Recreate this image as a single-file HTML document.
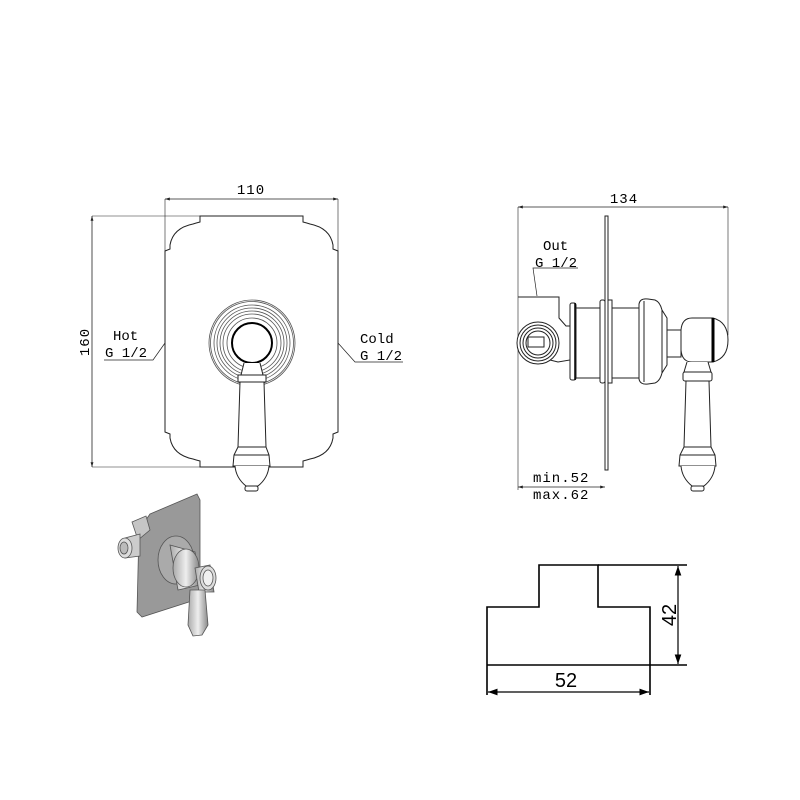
<!DOCTYPE html>
<html><head><meta charset="utf-8"><style>
html,body{margin:0;padding:0;background:#fff;width:800px;height:800px;overflow:hidden}
svg{display:block}
text{font-family:"Liberation Mono",monospace;fill:#000}
</style></head><body>
<svg width="800" height="800" viewBox="0 0 800 800" xmlns="http://www.w3.org/2000/svg">
<defs>
<marker id="a" viewBox="0 0 10 10" refX="10" refY="5" markerWidth="6" markerHeight="6" orient="auto-start-reverse"><path d="M0,2 L10,5 L0,8 z" fill="#222"/></marker>
<marker id="b" viewBox="0 0 10 10" refX="10" refY="5" markerWidth="8" markerHeight="8" orient="auto-start-reverse"><path d="M0,1.5 L10,5 L0,8.5 z" fill="#000"/></marker>
<linearGradient id="g1" x1="0" x2="1"><stop offset="0" stop-color="#aaa"/><stop offset=".5" stop-color="#eee"/><stop offset="1" stop-color="#888"/></linearGradient>
</defs>
<g fill="none" stroke="#222" stroke-width="1">
<path d="M200,216 L303,216 L303,222 Q307,223 310,224 Q330,228 333,245 L333,249 L338,251 L338,432 L333,434 L333,438 Q330,455 310,459 Q307,460 303,461 L303,467 L200,467 L200,461 Q196,460 193,459 Q173,455 170,438 L170,434 L165,432 L165,251 L170,249 L170,245 Q173,228 193,224 Q196,223 200,222 Z"/>
<line x1="165" y1="199" x2="338" y2="199" marker-start="url(#a)" marker-end="url(#a)" stroke-width=".8"/>
<line x1="165" y1="199" x2="165" y2="251" stroke-width=".6"/>
<line x1="338" y1="199" x2="338" y2="251" stroke-width=".6"/>
<line x1="92" y1="216" x2="92" y2="467" marker-start="url(#a)" marker-end="url(#a)" stroke-width=".8"/>
<line x1="92" y1="216" x2="200" y2="216" stroke-width=".6"/>
<line x1="92" y1="467" x2="200" y2="467" stroke-width=".6"/>
<polyline points="104,360 153,360 165,343" stroke-width=".7"/>
<polyline points="338,343 355,362 403,362" stroke-width=".7"/>
<g stroke="#555" stroke-width=".8">
<circle cx="252" cy="343" r="43"/><circle cx="252" cy="343" r="41.5"/><circle cx="252" cy="343" r="38"/><circle cx="252" cy="343" r="35"/><circle cx="252" cy="343" r="32"/><circle cx="252" cy="343" r="29"/><circle cx="252" cy="343" r="25"/>
</g>
<circle cx="252" cy="343" r="20" stroke="#000" stroke-width="2"/>
<path d="M244,363 L241,375 L263,375 L260,363" fill="#fff"/>
<rect x="238" y="375" width="28" height="7" fill="#fff"/>
<path d="M240,382 L238,447 L234,455 L233,466 L270,466 L269,455 L266,447 L264,382 Z" fill="#fff"/>
<line x1="238" y1="447" x2="266" y2="447"/><line x1="234" y1="455" x2="269" y2="455"/>
<path d="M235,466 Q236,478 246,486 L258,486 Q268,478 269,466" fill="#fff"/>
<rect x="245" y="486" width="13" height="5" rx="2" fill="#fff"/>
<line x1="518" y1="207" x2="728" y2="207" marker-start="url(#a)" marker-end="url(#a)" stroke-width=".8"/>
<line x1="518" y1="207" x2="518" y2="490" stroke-width=".6"/>
<line x1="728" y1="207" x2="728" y2="335" stroke-width=".6"/>
<line x1="518" y1="487" x2="605" y2="487" marker-start="url(#a)" marker-end="url(#a)" stroke-width=".8"/>
<polyline points="578,268 533,268 537,296" stroke-width=".7"/>
<rect x="605" y="216" width="3" height="254" fill="#fff"/>
<path d="M518,297 L559,297 L559,318 L566,326 L570,326 L570,360 L558,362 L550,360" fill="#fff"/>
<circle cx="538" cy="343" r="21" fill="#fff"/><circle cx="538" cy="343" r="18"/><circle cx="538" cy="343" r="15"/><circle cx="538" cy="343" r="12"/>
<rect x="528" y="337" width="16" height="10"/>
<rect x="570" y="303" width="6" height="77" rx="2" fill="#fff"/>
<line x1="575" y1="303" x2="575" y2="380" stroke="#000" stroke-width="1.5"/>
<rect x="576" y="308" width="24" height="70" fill="#fff"/>
<rect x="600" y="300" width="5" height="83" rx="2" fill="#fff"/>
<rect x="608" y="300" width="4" height="83" fill="#fff"/>
<rect x="612" y="308" width="27" height="70" fill="#fff"/>
<path d="M639,304 Q640,298 648,299 L655,300 Q660,302 662,310 L667,318 L667,365 L662,373 Q660,381 655,383 L648,384 Q640,385 639,379 Z" fill="#fff"/>
<line x1="644" y1="301" x2="644" y2="382"/><line x1="662" y1="310" x2="662" y2="373"/>
<rect x="667" y="330" width="14" height="27" fill="#fff"/>
<path d="M681,330 Q682,318 692,318 L713,318 Q728,322 728,340 Q728,358 713,362 L692,362 Q682,362 681,350 Z" fill="#fff"/>
<line x1="713" y1="318" x2="713" y2="362" stroke="#000" stroke-width="3"/>
<path d="M687,362 L684,372 L711,372 L708,362" fill="#fff"/>
<rect x="683" y="372" width="29" height="9" rx="2" fill="#fff"/>
<path d="M686,381 L684,447 L680,455 L679,466 L716,466 L715,455 L711,447 L709,381 Z" fill="#fff"/>
<line x1="684" y1="447" x2="711" y2="447"/><line x1="680" y1="455" x2="715" y2="455"/>
<path d="M681,466 Q682,478 692,486 L704,486 Q714,478 715,466" fill="#fff"/>
<rect x="691" y="486" width="13" height="5" rx="2" fill="#fff"/>
</g>
<!-- iso view -->
<g stroke="#555" stroke-width=".8">
<path d="M150,514 L197,494 L200,500 L200,595 L195,600 L142,617 L137,612 L139,530 Z" fill="#999"/>
<path d="M132,522 L146,516 L150,530 L138,540 Z" fill="#c5c5c5"/>
<path d="M125,538 L140,534 L140,556 L125,558 Z" fill="#ccc"/>
<ellipse cx="125" cy="548" rx="7" ry="10" fill="#ddd"/>
<ellipse cx="124" cy="548" rx="4" ry="6" fill="#bbb"/>
<ellipse cx="176" cy="560" rx="18" ry="24" fill="#aaa"/>
<path d="M170,545 L195,552 L200,585 L178,590 Z" fill="url(#g1)"/>
<ellipse cx="186" cy="568" rx="13" ry="19" fill="url(#g1)"/>
<path d="M195,568 L210,565 L214,592 L199,592 Z" fill="url(#g1)"/>
<ellipse cx="208" cy="578" rx="8" ry="12" fill="#ddd"/>
<ellipse cx="208" cy="578" rx="5" ry="8" fill="#f0f0f0"/>
<path d="M190,590 L205,590 L208,625 L202,635 L193,636 L188,625 Z" fill="url(#g1)"/>
</g>
<g fill="none" stroke="#000" stroke-width="1.6">
<path d="M487,695 L487,607 L539,607 L539,565 L598,565 L598,607 L650,607 L650,695"/>
<line x1="598" y1="565" x2="687" y2="565"/>
<line x1="487" y1="665" x2="687" y2="665"/>
<line x1="678" y1="566" x2="678" y2="664" stroke-width="1.2" marker-start="url(#b)" marker-end="url(#b)"/>
<line x1="488" y1="692" x2="649" y2="692" stroke-width="1.2" marker-start="url(#b)" marker-end="url(#b)"/>
</g>
<g font-size="14">
<text x="251" y="194" text-anchor="middle" letter-spacing="1">110</text>
<text transform="translate(89,342) rotate(-90)" text-anchor="middle" letter-spacing="1">160</text>
<text x="113" y="340">Hot</text>
<text x="105" y="357">G 1/2</text>
<text x="360" y="343">Cold</text>
<text x="360" y="360">G 1/2</text>
<text x="624" y="203" text-anchor="middle" letter-spacing="1">134</text>
<text x="543" y="250">Out</text>
<text x="535" y="267">G 1/2</text>
<text x="533" y="482" letter-spacing="1">min.52</text>
<text x="533" y="499" letter-spacing="1">max.62</text>
</g>
<text x="566" y="687" text-anchor="middle" font-size="20" style="font-family:'Liberation Sans',sans-serif">52</text>
<text transform="translate(676,615) rotate(-90)" text-anchor="middle" font-size="20" style="font-family:'Liberation Sans',sans-serif">42</text>
</svg>
</body></html>
